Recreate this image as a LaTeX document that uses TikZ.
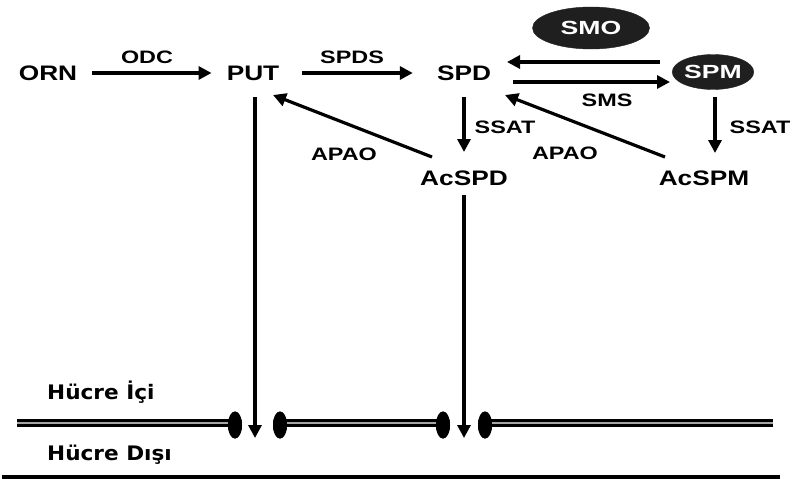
\documentclass[tikz,border=0pt]{standalone}
\usepackage{fontspec}
\usepackage{graphicx}
\setmainfont{Liberation Sans}
\newfontfamily\dejavu{DejaVu Sans}
\usetikzlibrary{arrows.meta,shapes.geometric}
\newcommand{\mainT}[1]{\scalebox{1.25}[1]{\fontsize{21}{21}\selectfont\bfseries #1}}
\newcommand{\labT}[1]{\scalebox{1.3}[1]{\fontsize{18}{18}\selectfont\bfseries #1}}
\newcommand{\ellT}[1]{\scalebox{1.4}[1]{\fontsize{19}{19}\selectfont\bfseries #1}}
\newcommand{\sideT}[1]{\scalebox{1.08}[1]{\fontsize{20}{20}\selectfont\dejavu\bfseries #1}}
\tikzset{
  txt/.style={inner sep=0pt},
  darkell/.style={ellipse, fill=black!88, draw=black!88, text=white, inner sep=0pt},
  arr/.style={line width=3.2pt, -{Triangle[length=13pt,width=13pt]}},
  membrane/.style={line width=3pt, double=black!35, double distance=2.5pt},
  channel/.style={ellipse, fill=black, inner sep=0pt, minimum width=14pt, minimum height=27pt},
}
\begin{document}
\begin{tikzpicture}[x=1pt,y=-1pt]
\useasboundingbox (0,0) rectangle (795,479);
% main nodes
\node[txt] (orn) at (48,73) {\mainT{ORN}};
\node[txt] (put) at (253,73) {\mainT{PUT}};
\node[txt] (spd) at (464,73) {\mainT{SPD}};
\node[txt] (acspd) at (464,178) {\mainT{AcSPD}};
\node[txt] (acspm) at (704,178) {\mainT{AcSPM}};
\node[darkell, minimum width=117pt, minimum height=42pt] (smo) at (591,28) {\ellT{SMO}};
\node[darkell, minimum width=73pt, minimum height=35pt] (spm) at (713,72) {\ellT{SPM}};
% labels
\node[txt] (odc) at (147,57) {\labT{ODC}};
\node[txt] (spds) at (352,57) {\labT{SPDS}};
\node[txt] (sms) at (607,100) {\labT{SMS}};
\node[txt] (ssat1) at (505,127) {\labT{SSAT}};
\node[txt] (ssat2) at (760,127) {\labT{SSAT}};
\node[txt] (apao1) at (344,154) {\labT{APAO}};
\node[txt] (apao2) at (565,153) {\labT{APAO}};
% membrane
\node[channel] (ch1) at (235,425) {};
\node[channel] (ch2) at (280,425) {};
\node[channel] (ch3) at (443,425) {};
\node[channel] (ch4) at (485,425) {};
\coordinate (mL) at (17,423);
\coordinate (mR) at (773,423);
\draw[membrane] (mL) -- (mL -| ch1.center);
\draw[membrane] (ch2.center |- mL) -- (ch3.center |- mL);
\draw[membrane] (ch4.center |- mL) -- (mR);
\node[channel] at (ch1) {};
\node[channel] at (ch2) {};
\node[channel] at (ch3) {};
\node[channel] at (ch4) {};
\coordinate (b1) at (2,477);
\coordinate (b2) at (780,477);
\draw[line width=3.5pt] (b1) -- (b2);
\node[txt, anchor=base west] (ici) at (47,399.5) {\sideT{Hücre İçi}};
\node[txt, anchor=base west] (disi) at (47,460.5) {\sideT{Hücre Dışı}};
% arrows
\draw[arr] ([xshift=15pt]orn.east) -- ([xshift=-15pt]put.west);
\draw[arr] ([xshift=23pt]put.east) -- ([xshift=-24pt]spd.west);
\draw[arr] ([xshift=-53pt,yshift=10pt]spm.center) -- ([xshift=43pt,yshift=11pt]spd.center);
\draw[arr] ([xshift=49pt,yshift=-9pt]spd.center) -- ([xshift=-43pt,yshift=-10pt]spm.center);
\draw[arr] ([yshift=-24pt]spd.center) -- ([yshift=26pt]acspd.center);
\draw[arr] ([xshift=2pt,yshift=-25pt]spm.center) -- ([xshift=11pt,yshift=25pt]acspm.center);
\draw[arr] ([xshift=-39pt,yshift=21pt]acspm.center) -- ([xshift=41pt,yshift=-22pt]spd.center);
\draw[arr] ([xshift=-32pt,yshift=21pt]acspd.center) -- ([xshift=20pt,yshift=-22pt]put.center);
\coordinate (t1) at (255,438);
\coordinate (t2) at (464,438);
\draw[arr] ([xshift=2pt,yshift=-24pt]put.center) -- (t1);
\draw[arr] ([yshift=-17pt]acspd.center) -- (t2);
\end{tikzpicture}
\end{document}
